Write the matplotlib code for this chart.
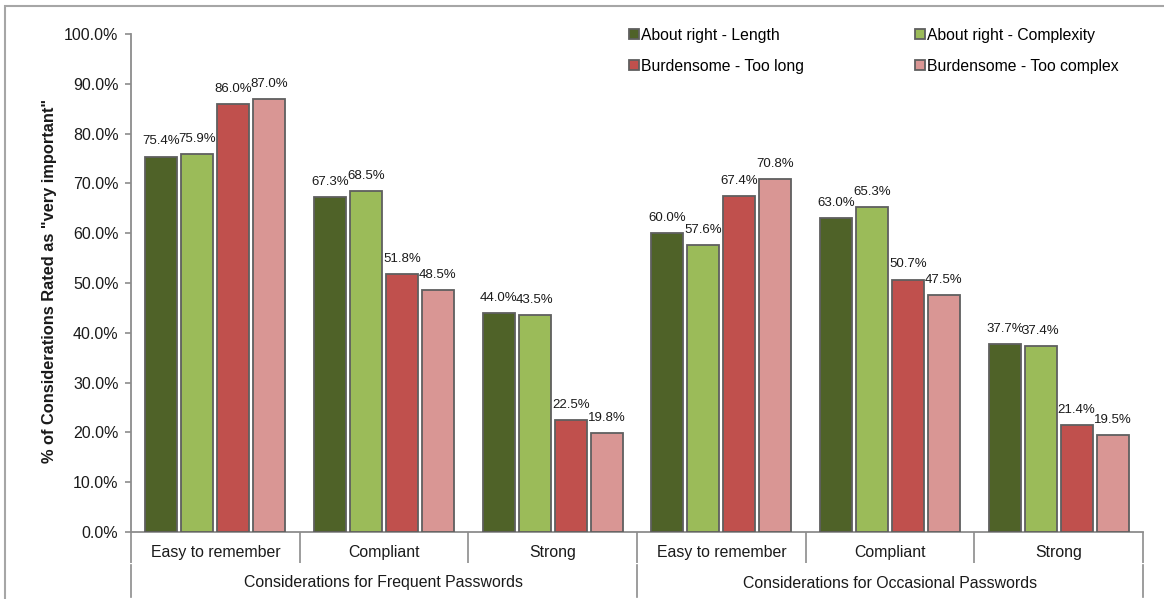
import numpy as np
import matplotlib
matplotlib.use('Agg')
import matplotlib.pyplot as plt
import matplotlib.transforms as mtransforms
from matplotlib.patches import Rectangle

plt.rcParams['font.family'] = ['Liberation Sans', 'DejaVu Sans']

# Dati
categories = ['Easy to remember', 'Compliant', 'Strong',
              'Easy to remember', 'Compliant', 'Strong']
groups = ['Considerations for Frequent Passwords',
          'Considerations for Occasional Passwords']
series_names = ['About right - Length', 'About right - Complexity',
                'Burdensome - Too long', 'Burdensome - Too complex']
about_length = [75.4, 67.3, 44.0, 60.0, 63.0, 37.7]
about_complexity = [75.9, 68.5, 43.5, 57.6, 65.3, 37.4]
burden_long = [86.0, 51.8, 22.5, 67.4, 50.7, 21.4]
burden_complex = [87.0, 48.5, 19.8, 70.8, 47.5, 19.5]
yticks = np.arange(0, 101, 10)

colors = ['#4F6228', '#9BBB59', '#C0504D', '#D99694']
series = [about_length, about_complexity, burden_long, burden_complex]

fig = plt.figure(figsize=(11.64, 5.99), dpi=100)
ax = fig.add_axes([131 / 1164, 67 / 599, (1143 - 131) / 1164, (532 - 34) / 599])

# cornice grigia attorno alla figura
fig.patches.append(Rectangle((5 / 1164, -0.1), 1.2, (599 - 6) / 599 + 0.1,
                             transform=fig.transFigure, fill=False,
                             edgecolor='#A6A6A6', linewidth=1.5))

x = np.arange(len(categories)) + 0.5
pitch = 0.213
width = 0.19
handles = []
for j, (vals, col, name) in enumerate(zip(series, colors, series_names)):
    xs = x + (j - 1.5) * pitch
    bars = ax.bar(xs, vals, width=width, color=col, edgecolor='#5F5F5F',
                  linewidth=1.3, label=name, zorder=3)
    handles.append(bars)
    for b, v in zip(bars, vals):
        ax.annotate(f'{v:.1f}%', xy=(b.get_x() + b.get_width() / 2, v),
                    xytext=(0, 6.5), textcoords='offset points',
                    ha='center', va='bottom', fontsize=9.5, color='#1a1a1a')

ax.set_xlim(0, 6)
ax.set_ylim(0, 100)
ax.set_yticks(yticks)
ax.set_yticklabels([f'{t:.1f}%' for t in yticks], fontsize=11.5, color='#1a1a1a')
ax.tick_params(axis='y', direction='out', length=4, width=1.2, color='#8C8C8C', pad=5)

# asse x a due livelli
ax.set_xticks(np.arange(0, 7))
ax.set_xticklabels([])
ax.tick_params(axis='x', direction='out', length=22.5, width=1.2, color='#8C8C8C')
for s in ['top', 'right']:
    ax.spines[s].set_visible(False)
for s in ['left', 'bottom']:
    ax.spines[s].set_color('#8C8C8C')
    ax.spines[s].set_linewidth(1.3)

trans = mtransforms.blended_transform_factory(ax.transData, ax.transAxes)
h = 498.0
for xv in [0, 3, 6]:
    ax.plot([xv, xv], [-33 / h, -65 / h], transform=trans, color='#8C8C8C',
            linewidth=1.2, clip_on=False)
for xc, lab in zip(x, categories):
    ax.text(xc, -21 / h, lab, transform=trans, ha='center', va='center',
            fontsize=11.4, color='#1a1a1a')
for k, g in enumerate(groups):
    ax.text(1.5 + 3 * k, -51 / h, g, transform=trans, ha='center', va='center',
            fontsize=11.4, color='#1a1a1a')

ax.set_ylabel('% of Considerations Rated as "very important"', fontsize=11.8,
              fontweight='bold', color='#1a1a1a')
ax.yaxis.set_label_coords(-(131 - 57) / 1012, 0.505)

# legenda: righe Length/Complexity e Too long/Too complex
order = [0, 2, 1, 3]
leg = ax.legend([handles[i] for i in order], [series_names[i] for i in order],
                loc='upper left', bbox_to_anchor=((623 - 131) / 1012, 1.025),
                ncol=2, frameon=False, fontsize=11.3, handlelength=0.6,
                handleheight=0.6, handletextpad=0.15, columnspacing=7.1,
                labelspacing=1.0, borderaxespad=0)

plt.savefig('out.png', dpi=100)
